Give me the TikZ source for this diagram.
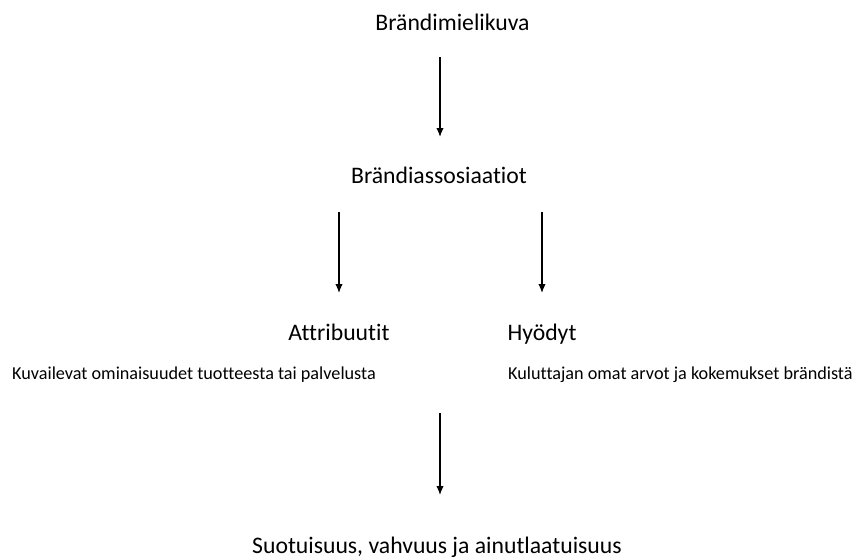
\documentclass[tikz,border=0pt]{standalone}
\usepackage{fontspec}
\setmainfont{Carlito}[Ligatures=NoCommon]
\usetikzlibrary{positioning,arrows.meta}
\definecolor{ink}{HTML}{000000}

\begin{document}
\begin{tikzpicture}[x=1pt,y=-1pt,
    lab/.style={text=ink,inner sep=0pt,anchor=base,font=\fontsize{23.7}{28}\selectfont},
    note/.style={text=ink,inner sep=0pt,anchor=base west,font=\fontsize{18.2}{22}\selectfont},
    arr/.style={draw=ink,line width=1.4pt,-{Latex[length=9pt,width=7.5pt]}}]
    \useasboundingbox (0,0) rectangle (863,560);

    \node[lab] (mielikuva) at (452.5,30) {Brändimielikuva};
    \node[lab] (assos) at (439,183) {Brändiassosiaatiot};
    \node[lab] (attr) at (339,340) {Attribuutit};
    \node[lab] (hyod) at (542,340) {Hyödyt};
    \node[note] (attrnote) at (12,379) {Kuvailevat ominaisuudet tuotteesta tai palvelusta};
    \node[note] (hyodnote) at (508,379) {Kuluttajan omat arvot ja kokemukset brändistä};
    \node[lab] (tulos) at (437,553) {Suotuisuus, vahvuus ja ainutlaatuisuus};

    % the arrows stand well clear of the words
    \draw[arr,shorten <=27pt,shorten >=46pt] (mielikuva.base -| 440,0) -- (440,183);
    \draw[arr,shorten <=29pt,shorten >=47pt] (assos.base -| attr.base) -- (attr.base);
    \draw[arr,shorten <=29pt,shorten >=47pt] (assos.base -| hyod.base) -- (hyod.base);
    \draw[arr,shorten <=34pt,shorten >=58pt] (attrnote.base -| 440,0) -- (440,553);
\end{tikzpicture}
\end{document}
